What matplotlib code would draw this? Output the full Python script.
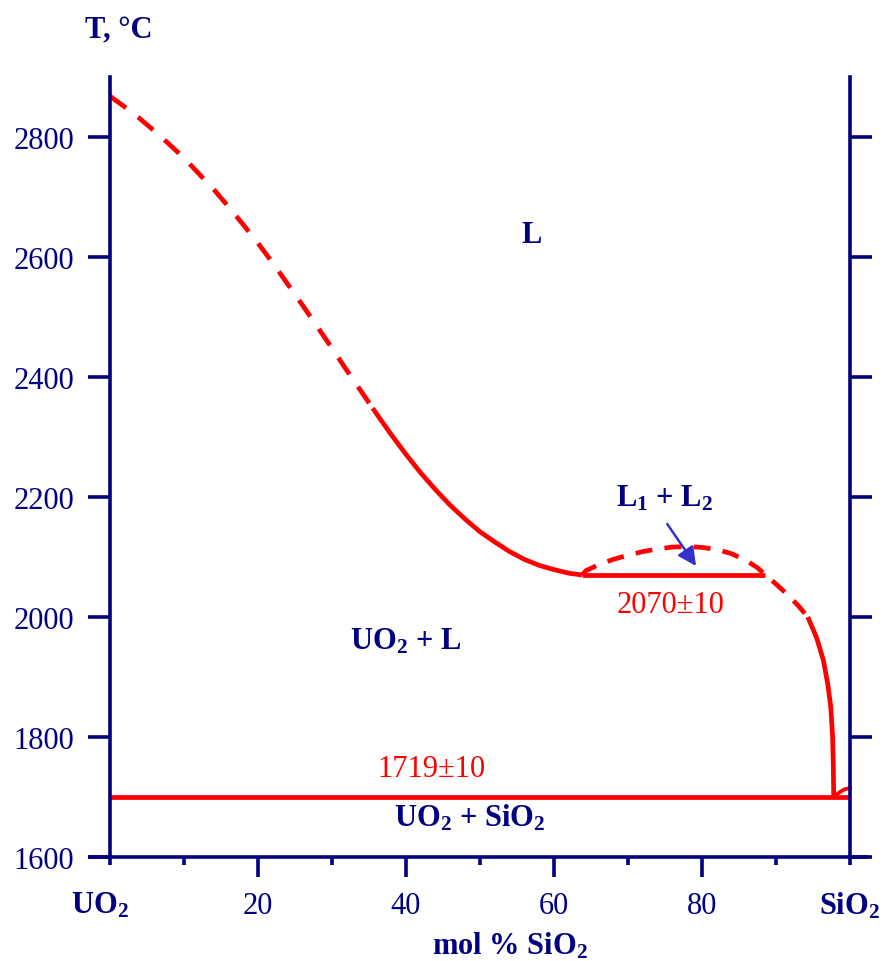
import numpy as np
import matplotlib
matplotlib.use("Agg")
import matplotlib.pyplot as plt
from matplotlib.ticker import FixedLocator, FixedFormatter
from matplotlib.transforms import ScaledTranslation

plt.rcParams['font.family'] = ['Liberation Serif', 'DejaVu Serif']
plt.rcParams['mathtext.fontset'] = 'custom'
plt.rcParams['mathtext.rm'] = 'Liberation Serif'
plt.rcParams['mathtext.bf'] = 'Liberation Serif:bold'
plt.rcParams['mathtext.it'] = 'Liberation Serif:italic'

NAVY = '#000080'
RED = '#ff0000'

# UO2 liquidus, dashed part
liq_dash_x = [0, 2, 4, 6, 8, 10, 12, 14, 16, 18, 20, 22, 24, 26, 28, 30, 32, 34, 35.5]
liq_dash_t = [2868, 2850, 2831, 2810, 2788, 2765, 2739, 2713, 2684, 2654, 2623,
              2590, 2555, 2520, 2484, 2448, 2411, 2375, 2348]
# UO2 liquidus, solid part
liq_solid_x = [35.5, 36, 38, 40, 42, 44, 46, 48, 50, 52, 54, 56, 58, 60, 62, 63.8]
liq_solid_t = [2348, 2339, 2304, 2271, 2240, 2212, 2186, 2163, 2142, 2125, 2109,
               2096, 2086, 2079, 2073, 2070]

# miscibility gap dome + SiO2 liquidus, dashed part
dome_x = [63.8, 64.3, 66, 68, 70, 72, 74, 76, 78, 80, 82, 84, 86, 87.5, 88.5,
          90, 91.5, 93, 94.3]
dome_t = [2070, 2077, 2087, 2096, 2103, 2109, 2113.5, 2116.5, 2117.5, 2116, 2112.5,
          2105.5, 2094, 2082, 2071, 2055, 2038, 2019, 2000]
# SiO2 liquidus, solid part
sio2_x = [94.3, 95.5, 96.4, 97.0, 97.4, 97.65, 97.75, 97.8]
sio2_t = [2000, 1965, 1928, 1888, 1850, 1800, 1750, 1700]
# small arc at the SiO2 side
arc_x = [97.8, 98.6, 99.3, 100.0]
arc_t = [1700, 1708, 1713, 1715]

# invariant lines
monotectic_x = [63.8, 88.5]
monotectic_t = 2070
eutectic_x = [0, 100]
eutectic_t = 1700

y_ticks = [1600, 1800, 2000, 2200, 2400, 2600, 2800]
x_major = [20, 40, 60, 80]
x_minor = [0, 10, 30, 50, 70, 90, 100]
x_minor_labels = ['UO$_\\mathbf{2}$', '', '', '', '', '', 'SiO$_\\mathbf{2}$']

fig = plt.figure(figsize=(8.85, 9.62), dpi=100)
ax = fig.add_axes([110 / 885, 104 / 962, 740 / 885, 780 / 962])
ax.set_xlim(0, 100)
ax.set_ylim(1600, 2900)

LW = 3.4
# phase boundaries
ax.plot(liq_dash_x, liq_dash_t, color=RED, lw=LW, ls=(0, (4.2, 3.2)), clip_on=False)
ax.plot(liq_solid_x, liq_solid_t, color=RED, lw=LW, solid_capstyle='butt')
ax.plot(dome_x, dome_t, color=RED, lw=LW, ls=(0, (3.6, 2.6)))
ax.plot(sio2_x, sio2_t, color=RED, lw=LW, solid_capstyle='butt')
ax.plot(arc_x, arc_t, color=RED, lw=LW * 0.8, clip_on=False)
ax.plot(monotectic_x, [monotectic_t] * 2, color=RED, lw=LW, solid_capstyle='butt')
ax.plot(eutectic_x, [eutectic_t] * 2, color=RED, lw=LW, solid_capstyle='butt')

# spines
AW = 2.6
for side in ['left', 'right']:
    ax.spines[side].set_color(NAVY)
    ax.spines[side].set_linewidth(AW)
ax.spines['top'].set_visible(False)
ax.spines['bottom'].set_visible(False)
ax.plot([-3, 102.5], [1600, 1600], color=NAVY, lw=AW, clip_on=False,
        solid_capstyle='butt', zorder=5)

# ticks
ax.set_yticks(y_ticks)
ax.tick_params(axis='y', which='major', left=True, right=True, direction='out',
               length=16, width=AW, color=NAVY, labelcolor=NAVY,
               labelsize=22, pad=10)
ax.xaxis.set_major_locator(FixedLocator(x_major))
ax.xaxis.set_minor_locator(FixedLocator(x_minor))
ax.xaxis.set_minor_formatter(FixedFormatter(x_minor_labels))
ax.tick_params(axis='x', which='major', direction='out', length=14.5, width=AW,
               color=NAVY, labelcolor=NAVY, labelsize=22, pad=10)
ax.tick_params(axis='x', which='minor', direction='out', length=6, width=AW,
               color=NAVY, labelcolor=NAVY, labelsize=22, pad=18)
for lbl in ax.xaxis.get_minorticklabels():
    lbl.set_fontweight('bold')
minor_ticks = ax.xaxis.get_minor_ticks()
lbl0 = minor_ticks[0].label1
lbl0.set_transform(lbl0.get_transform() + ScaledTranslation(-7 / 72, 0, fig.dpi_scale_trans))

# region labels
kw = dict(color=NAVY, fontsize=22, fontweight='bold', ha='center', va='baseline')
ax.text(57.0, 2625, 'L', **kw)
ax.text(75.0, 2185, 'L$_\\mathbf{1}$ + L$_\\mathbf{2}$', **kw)
ax.text(39.9, 1947, 'UO$_\\mathbf{2}$ + L', **kw)
ax.text(48.6, 1653, 'UO$_\\mathbf{2}$ + SiO$_\\mathbf{2}$', **kw)

ax.text(75.8, 2008, '2070±10', color=RED, fontsize=22, ha='center', va='baseline')
ax.text(43.5, 1735, '1719±10', color=RED, fontsize=22, ha='center', va='baseline')

ax.annotate('', xy=(79.2, 2085), xytext=(75.3, 2155),
            arrowprops=dict(arrowstyle='-|>', color='#3333cc', lw=1.8,
                            mutation_scale=28, shrinkA=0, shrinkB=0))

fig.text(119 / 885, 1 - 38 / 962, 'T, °C', color=NAVY, fontsize=22,
         fontweight='bold', ha='center', va='baseline')
fig.text(510 / 885, 1 - 955 / 962, 'mol % SiO$_\\mathbf{2}$', color=NAVY, fontsize=22,
         fontweight='bold', ha='center', va='baseline')

fig.savefig('out.png', dpi=100)
